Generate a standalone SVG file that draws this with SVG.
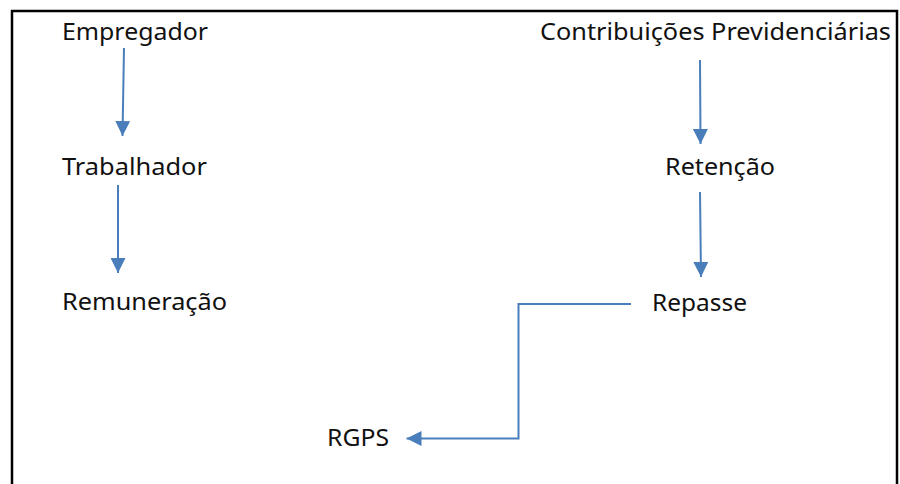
<svg xmlns="http://www.w3.org/2000/svg" width="900" height="484" viewBox="0 0 900 484">
<style>
text{font-family:"Noto Sans","Open Sans","DejaVu Sans",sans-serif;font-size:24px;fill:#111}
.c{stroke:#4a7ebb;stroke-width:2;fill:none}
</style>
<defs>
<marker id="ah" viewBox="0 0 15 15" refX="15" refY="7.5" markerWidth="15" markerHeight="15" markerUnits="userSpaceOnUse" orient="auto">
<path d="M0,0 L15,7.5 L0,15 Z" fill="#4a7ebb"/>
</marker>
</defs>
<rect width="900" height="484" fill="#fff"/>
<path d="M12,490 V11 H897 V490" fill="none" stroke="#000" stroke-width="2.5"/>
<g id="connectors">
<path class="c" d="M124,48 L122.5,136" marker-end="url(#ah)"/>
<path class="c" d="M118,185 L118,273" marker-end="url(#ah)"/>
<path class="c" d="M700,60 L700.5,144" marker-end="url(#ah)"/>
<path class="c" d="M700,192 L701,277" marker-end="url(#ah)"/>
<path class="c" d="M631,304 H518.5 V438.5 H406.5" marker-end="url(#ah)"/>
</g>
<g id="empregador"><text x="62" y="40" textLength="146" lengthAdjust="spacingAndGlyphs">Empregador</text></g>
<g id="trabalhador"><text x="62" y="175" textLength="145" lengthAdjust="spacingAndGlyphs">Trabalhador</text></g>
<g id="remuneracao"><text x="62" y="310" textLength="165" lengthAdjust="spacingAndGlyphs">Remuneração</text></g>
<g id="contribuicoes"><text x="540" y="40" textLength="351" lengthAdjust="spacingAndGlyphs">Contribuições Previdenciárias</text></g>
<g id="retencao"><text x="665" y="175" textLength="110" lengthAdjust="spacingAndGlyphs">Retenção</text></g>
<g id="repasse"><text x="652" y="311" textLength="95" lengthAdjust="spacingAndGlyphs">Repasse</text></g>
<g id="rgps"><text x="327" y="446" textLength="62" lengthAdjust="spacingAndGlyphs">RGPS</text></g>
</svg>
